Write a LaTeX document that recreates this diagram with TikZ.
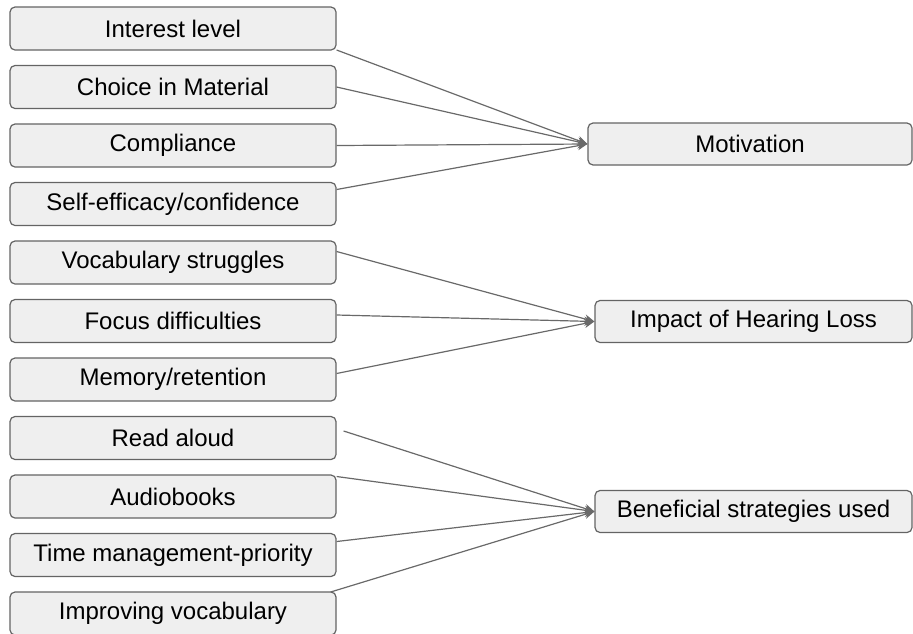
\documentclass[tikz,border=0pt]{standalone}
\usepackage{fontspec}
\setmainfont{Liberation Sans}
\usetikzlibrary{arrows.meta}
\definecolor{boxfill}{RGB}{239,239,239}
\definecolor{boxline}{RGB}{100,100,100}
\definecolor{linkgray}{RGB}{105,105,105}
\tikzset{
	factor/.style={draw=boxline, fill=boxfill, line width=0.6pt, rounded corners=2.5pt, minimum width=163pt, minimum height=21.5pt, inner sep=0pt, font=\fontsize{12}{14}\selectfont},
	theme/.style={factor, minimum width=158.5pt, minimum height=21pt},
	link/.style={draw=linkgray, line width=0.6pt, -{Stealth[length=5pt,width=4.5pt]}}
}
\begin{document}
\begin{tikzpicture}[x=0.5pt,y=-0.5pt]
		\useasboundingbox (0,0) rectangle (913,633);
		
		\foreach \t [count=\i] in {Interest level,Choice in Material,Compliance,Self-efficacy/confidence,Vocabulary struggles,Focus difficulties,Memory/retention,Read aloud,Audiobooks,Time management-priority,Improving vocabulary}
		\node[factor] (f\i) at (173,28.5+58.5*\i-58.5) {\t};
		
		\node[theme, minimum width=162pt] (mot) at (750,144) {Motivation};
		\node[theme] (hear) at (753.5,321.5) {Impact of Hearing Loss};
		\node[theme] (strat) at (753.5,511.5) {Beneficial strategies used};
		
		\foreach \i/\dx/\dy/\tgt in {1/0/21.5/mot, 2/0/0/mot, 3/0/0/mot, 4/0/-14.5/mot, 5/0/-11/hear, 6/0/-6/hear, 7/0/-6/hear, 8/7/-7/strat, 9/0/-20/strat, 10/0/-13.5/strat, 11/-6/-21.5/strat}
		\draw[link] ([shift={(\dx,\dy)}]f\i.east) -- (\tgt.west);
		
		\end{tikzpicture}
\end{document}
